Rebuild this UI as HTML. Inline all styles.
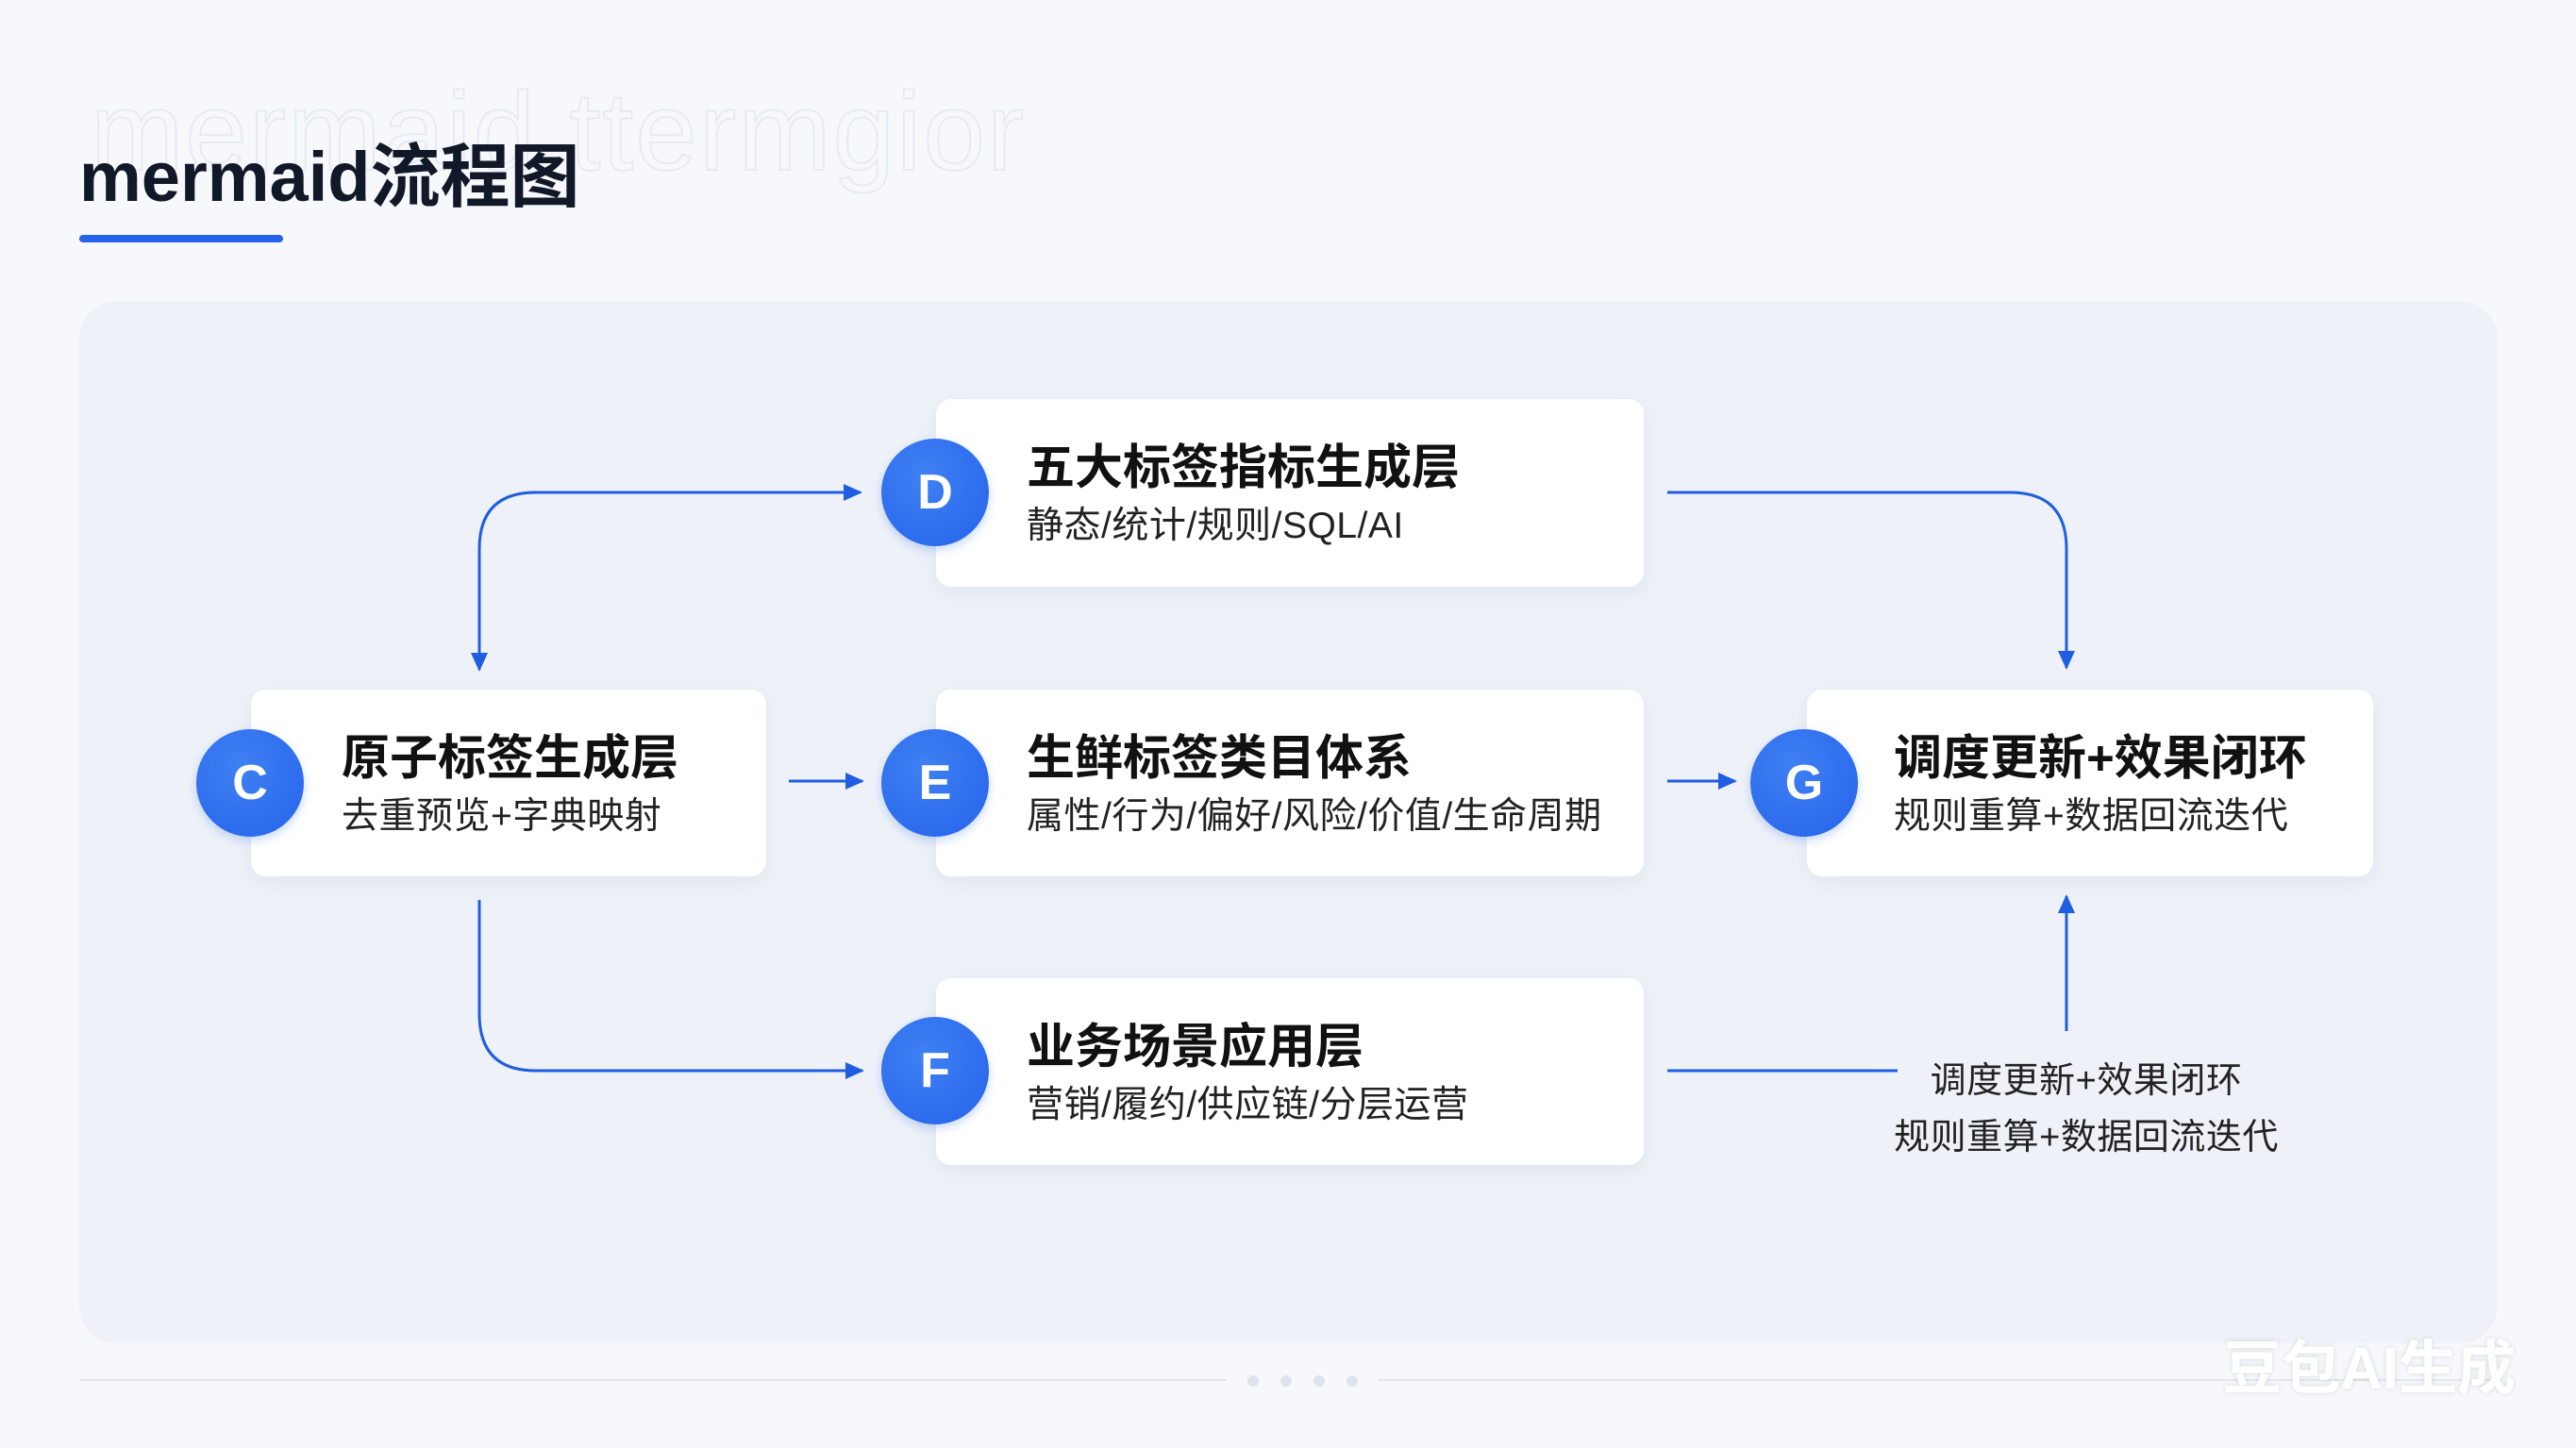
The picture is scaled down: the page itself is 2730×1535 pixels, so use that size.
<!DOCTYPE html>
<html><head><meta charset="utf-8"><style>
body{margin:0;width:2730px;height:1535px;background:#f6f8fb;font-family:"Liberation Sans","Noto Sans CJK SC",sans-serif;position:relative;overflow:hidden}
.ghost{position:absolute;left:96px;top:72px;font-size:118px;color:#f6f8fb;-webkit-text-stroke:2px #e6ebf3;letter-spacing:2px}
.title{position:absolute;left:84px;top:128px;font-size:74px;font-weight:bold;color:#111827}
.ul{position:absolute;left:84px;top:249px;width:216px;height:8px;border-radius:4px;background:#2563eb}
.panel{position:absolute;left:84px;top:319px;width:2563px;height:1105px;border-radius:40px;background:#eef2f8}
.box{position:absolute;background:#fff;border-radius:16px;box-shadow:0 6px 24px rgba(100,120,160,.10)}
.c{position:absolute;width:114px;height:114px;border-radius:50%;background:radial-gradient(circle at 40% 35%,#3f80f2,#2563eb);color:#fff;font-weight:bold;font-size:52px;display:flex;align-items:center;justify-content:center;box-shadow:0 4px 10px rgba(37,99,235,.25)}
.t{position:absolute;font-size:51px;font-weight:bold;color:#111;white-space:nowrap}
.s{position:absolute;font-size:39px;color:#222;white-space:nowrap;letter-spacing:0.5px}
</style></head><body>
<div class="ghost">mermaid ttermgior</div>
<div class="title">mermaid流程图</div>
<div class="ul"></div>
<div class="panel"></div>

<div class="box" style="left:992px;top:423px;width:750px;height:199px"></div>
<div class="box" style="left:266px;top:731px;width:546px;height:198px"></div>
<div class="box" style="left:992px;top:731px;width:750px;height:198px"></div>
<div class="box" style="left:1915px;top:731px;width:600px;height:198px"></div>
<div class="box" style="left:992px;top:1037px;width:750px;height:198px"></div>

<div class="c" style="left:934px;top:465px">D</div>
<div class="c" style="left:208px;top:773px">C</div>
<div class="c" style="left:934px;top:773px">E</div>
<div class="c" style="left:1855px;top:773px">G</div>
<div class="c" style="left:934px;top:1078px">F</div>

<div class="t" style="left:1088px;top:454px">五大标签指标生成层</div>
<div class="s" style="left:1088px;top:526px">静态/统计/规则/SQL/AI</div>
<div class="t" style="left:362px;top:762px">原子标签生成层</div>
<div class="s" style="left:362px;top:834px">去重预览+字典映射</div>
<div class="t" style="left:1088px;top:762px">生鲜标签类目体系</div>
<div class="s" style="left:1088px;top:834px">属性/行为/偏好/风险/价值/生命周期</div>
<div class="t" style="left:2007px;top:762px">调度更新+效果闭环</div>
<div class="s" style="left:2007px;top:834px">规则重算+数据回流迭代</div>
<div class="t" style="left:1088px;top:1068px">业务场景应用层</div>
<div class="s" style="left:1088px;top:1140px">营销/履约/供应链/分层运营</div>

<div class="s" style="left:2001px;top:1116px;width:420px;text-align:center;line-height:60px;font-size:38px">调度更新+效果闭环<br>规则重算+数据回流迭代</div>

<svg width="2730" height="1535" style="position:absolute;left:0;top:0">
<defs>
<marker id="b" markerWidth="20" markerHeight="20" refX="18" refY="10" orient="auto" markerUnits="userSpaceOnUse" viewBox="0 0 20 20"><path d="M0,1L20,10L0,19z" fill="#1f5ee0"/></marker></defs>
<g fill="none" stroke="#1f5ee0" stroke-width="3">
<path d="M912,522 L568,522 Q508,522 508,582 L508,710" marker-end="url(#b)"/>
<path d="M600,522 L912,522" marker-end="url(#b)"/>
<path d="M1767,522 L2130,522 Q2190,522 2190,582 L2190,708" marker-end="url(#b)"/>
<path d="M836,828 L914,828" marker-end="url(#b)"/>
<path d="M1767,828 L1839,828" marker-end="url(#b)"/>
<path d="M508,954 L508,1075 Q508,1135 568,1135 L914,1135" marker-end="url(#b)"/>
<path d="M1767,1135 L2011,1135"/>
<path d="M2190,1093 L2190,950" marker-end="url(#b)"/>
</g>
<line x1="84" y1="1463" x2="1300" y2="1463" stroke="#e3e7ee" stroke-width="2"/>
<line x1="1460" y1="1463" x2="2647" y2="1463" stroke="#e3e7ee" stroke-width="2"/>
<g fill="#dfe4ec"><circle cx="1328" cy="1464" r="6"/><circle cx="1363" cy="1464" r="6"/><circle cx="1398" cy="1464" r="6"/><circle cx="1433" cy="1464" r="6"/></g>
</svg>
<div style="position:absolute;left:2356px;top:1400px;font-size:62px;font-weight:bold;color:#fff;text-shadow:0 0 6px rgba(0,0,0,.12)">豆包AI生成</div>
</body></html>
